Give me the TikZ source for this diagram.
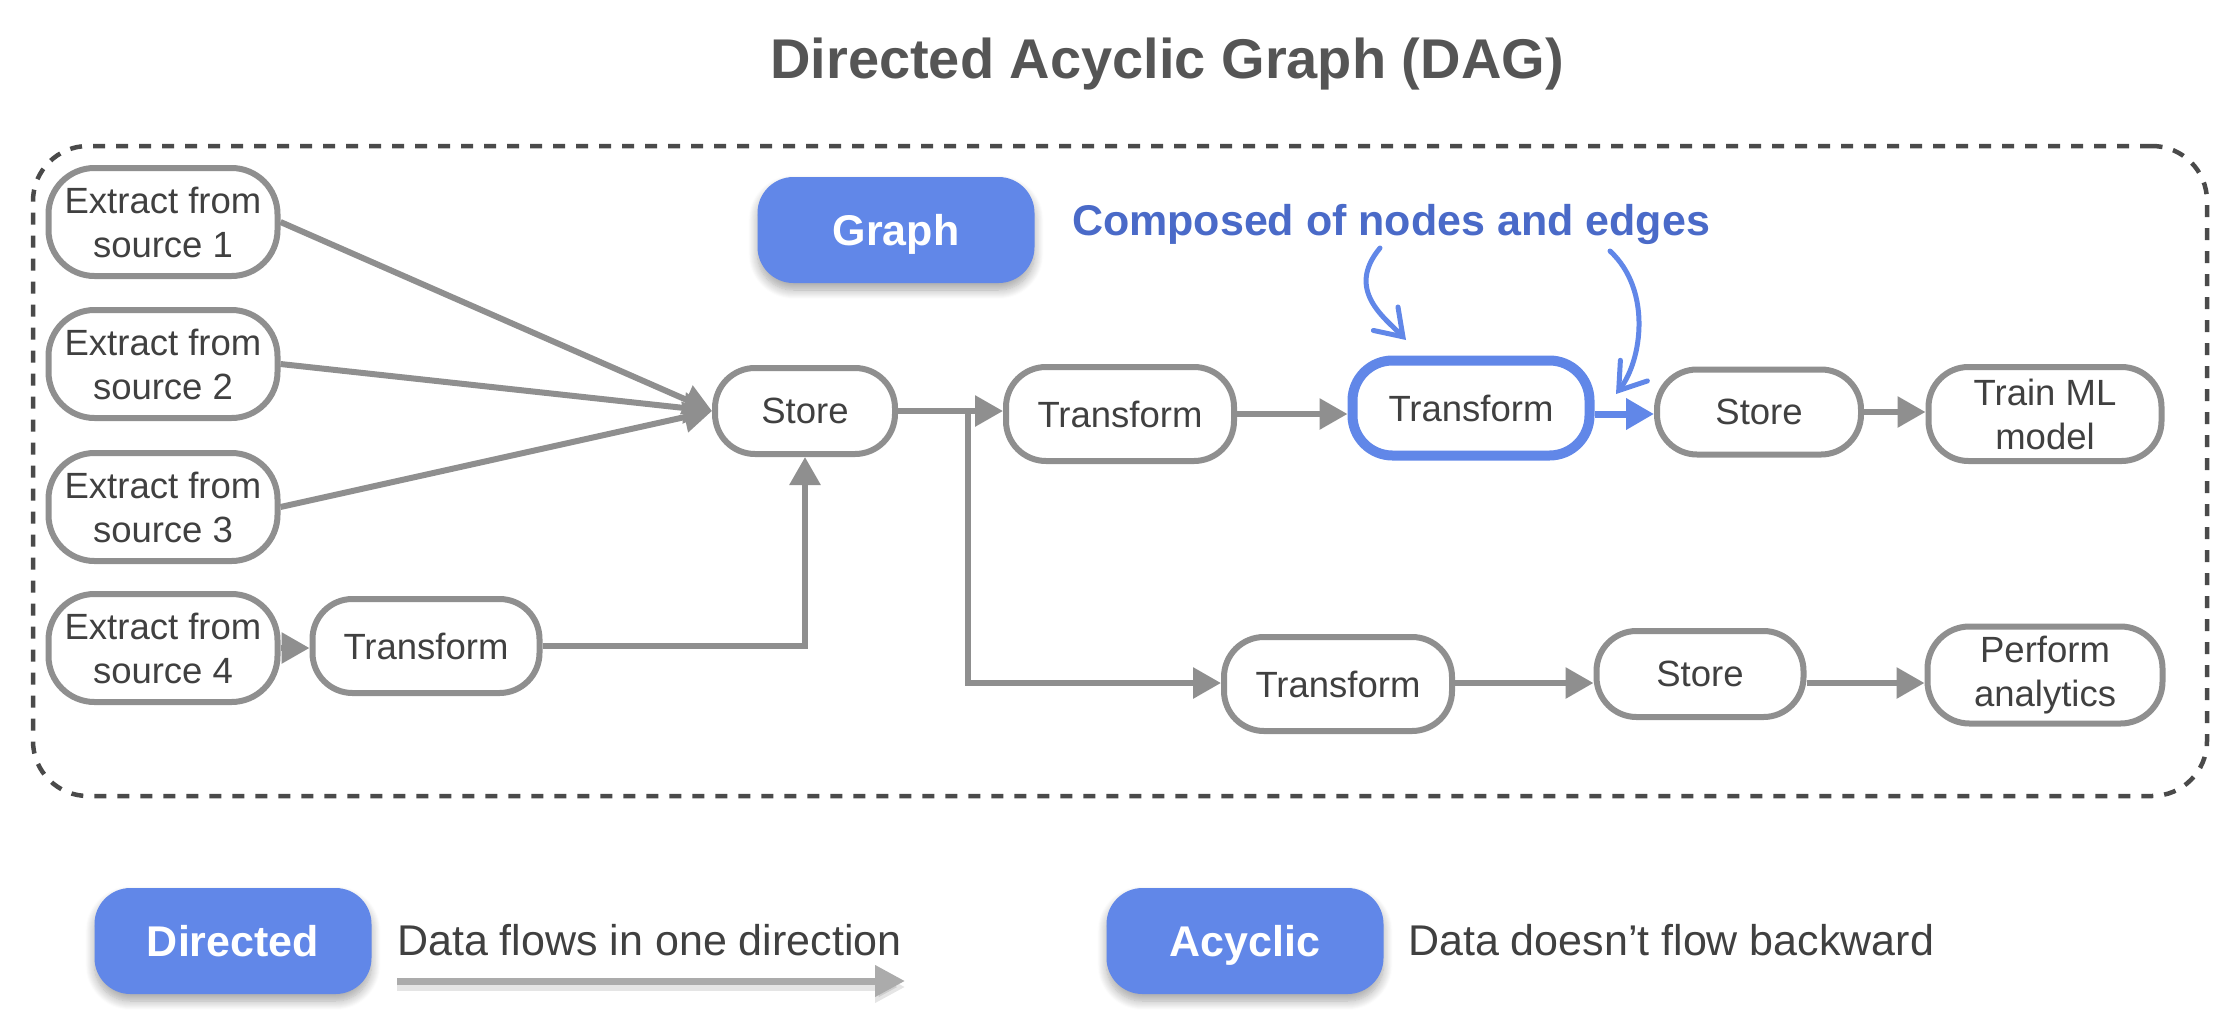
\documentclass[tikz,border=0pt]{standalone}
\usepackage{fontspec}
\setmainfont{Liberation Sans}
\usetikzlibrary{arrows.meta,shadows.blur,calc}
\definecolor{nodegray}{HTML}{8F8F8F}
\definecolor{txt}{HTML}{404040}
\definecolor{titlec}{HTML}{555555}
\definecolor{blueA}{HTML}{6187E8}
\definecolor{blueT}{HTML}{4A6AC8}
\definecolor{dashc}{HTML}{4A4A4A}
\definecolor{legarrow}{HTML}{ABABAB}
\begin{document}
\begin{tikzpicture}[x=1pt,y=-1pt,
  nodefont/.style={font=\fontsize{36.5}{44}\selectfont},
  proc/.style={draw=nodegray, line width=6pt, fill=white, rounded corners=40pt,
    align=center, text=txt, inner sep=0pt, nodefont},
  hiproc/.style={proc, draw=blueA, line width=10pt},
  bluebox/.style={fill=blueA, draw=none, rounded corners=36pt, text=white,
    inner sep=0pt, minimum width=277pt, minimum height=106pt,
    text height=31pt, text depth=0pt,
    font=\bfseries\fontsize{43}{50}\selectfont,
    blur shadow={shadow xshift=0pt, shadow yshift=-7pt, shadow blur radius=9pt,
      shadow opacity=35, shadow blur steps=10}},
  edge/.style={draw=nodegray, line width=6pt, -{Triangle[length=28pt,width=30pt]}},
  blueedge/.style={draw=blueA, line width=7pt, -{Triangle[length=28pt,width=30pt]}},
  pointer/.style={draw=blueA, line width=5pt, line cap=round,
    -{Straight Barb[length=25pt,width=34pt,line cap=round]}},
  legtext/.style={font=\fontsize{43}{50}\selectfont, text=txt, inner sep=0pt},
]
\useasboundingbox (0,0) rectangle (2218,1023);

% title
\node[font=\bfseries\fontsize{56}{62}\selectfont, text=titlec, anchor=base, inner sep=0pt]
  (title) at (1167,78) {Directed Acyclic Graph (DAG)};

% dashed frame
\node[draw=dashc, line width=4.5pt, dash pattern=on 12pt off 11pt, rounded corners=55pt,
  minimum width=2174pt, minimum height=650pt, inner sep=0pt] (dagframe) at (1120,471) {};

% graph label
\node[bluebox] (graph) at (896,230) {Graph};
\node[font=\bfseries\fontsize{43}{50}\selectfont, text=blueT, anchor=base, inner sep=0pt]
  (comp) at (1391,235) {Composed of nodes and edges};

% nodes
\node[proc, rounded corners=46pt, minimum width=229pt, minimum height=108pt] (E1) at (163,222) {Extract from\\source 1};
\node[proc, rounded corners=46pt, minimum width=229pt, minimum height=108pt] (E2) at (163,364) {Extract from\\source 2};
\node[proc, rounded corners=46pt, minimum width=229pt, minimum height=108pt] (E3) at (163,507) {Extract from\\source 3};
\node[proc, rounded corners=46pt, minimum width=229pt, minimum height=108pt] (E4) at (163,648) {Extract from\\source 4};
\node[proc, minimum width=227pt, minimum height=94pt] (TL) at (426,646) {Transform};
\node[proc, minimum width=180pt, minimum height=86pt] (S1) at (805,411) {Store};
\node[proc, minimum width=228pt, minimum height=94pt] (T1) at (1120,414) {Transform};
\node[hiproc, minimum width=237pt, minimum height=95pt] (T2) at (1471,408) {Transform};
\node[proc, minimum width=204pt, minimum height=85pt] (S2) at (1759,412) {Store};
\node[proc, minimum width=233pt, minimum height=94pt] (ML) at (2045,414) {Train ML\\model};
\node[proc, minimum width=228pt, minimum height=94pt] (T3) at (1338,684) {Transform};
\node[proc, minimum width=207pt, minimum height=86pt] (S3) at (1700,674) {Store};
\node[proc, rounded corners=42pt, minimum width=235pt, minimum height=97pt] (PA) at (2045,675) {Perform\\analytics};

% row coordinates
\coordinate (rowA) at (0,414);
\coordinate (rowB) at (0,683);
\coordinate (j) at (968,411);

% edges
\draw[edge] (E1.east) -- (S1.west);
\draw[edge] (E2.east) -- (S1.west);
\draw[edge] (E3.east) -- (S1.west);
\draw[edge] (E4.east) -- (E4.east -| TL.west);
\draw[edge] (TL.east) -| (S1.south);
\draw[edge] (S1.east) -- (S1.east -| T1.west);
\draw[edge] (j) |- (T3.west |- rowB);
\draw[edge] (T1.east |- rowA) -- (T2.west |- rowA);
\draw[blueedge] (T2.east |- rowA) -- (S2.west |- rowA);
\draw[edge] (S2.east) -- (S2.east -| ML.west);
\draw[edge] (T3.east |- rowB) -- (S3.west |- rowB);
\draw[edge] (S3.east |- rowB) -- (PA.west |- rowB);

% pointer arrows
\coordinate (p1s) at (1380,248);
\coordinate (p1e) at (1406,340);
\coordinate (p2s) at (1610,251);
\coordinate (p2e) at (1616,394);
\draw[pointer] (p1s) .. controls (1345,290) and (1385,318) .. (p1e);
\draw[pointer] (p2s) .. controls (1652,290) and (1642,360) .. (p2e);

% legend
\node[bluebox] (directed) at (233,941) {Directed};
\node[legtext, anchor=base west] (dtext) at (397,955) {Data flows in one direction};
\coordinate (la) at (397,981);
\coordinate (lb) at (905,981);
\draw[line width=7pt, black, opacity=0.10, -{Triangle[length=30pt,width=30pt]}]
  ($(la)+(0,6)$) -- ($(lb)+(0,6)$);
\draw[line width=7pt, legarrow, -{Triangle[length=30pt,width=30pt]}] (la) -- (lb);
\node[bluebox] (acyclic) at (1245,941) {Acyclic};
\node[legtext, anchor=base west] (atext) at (1408,955) {Data doesn’t flow backward};
\end{tikzpicture}
\end{document}
